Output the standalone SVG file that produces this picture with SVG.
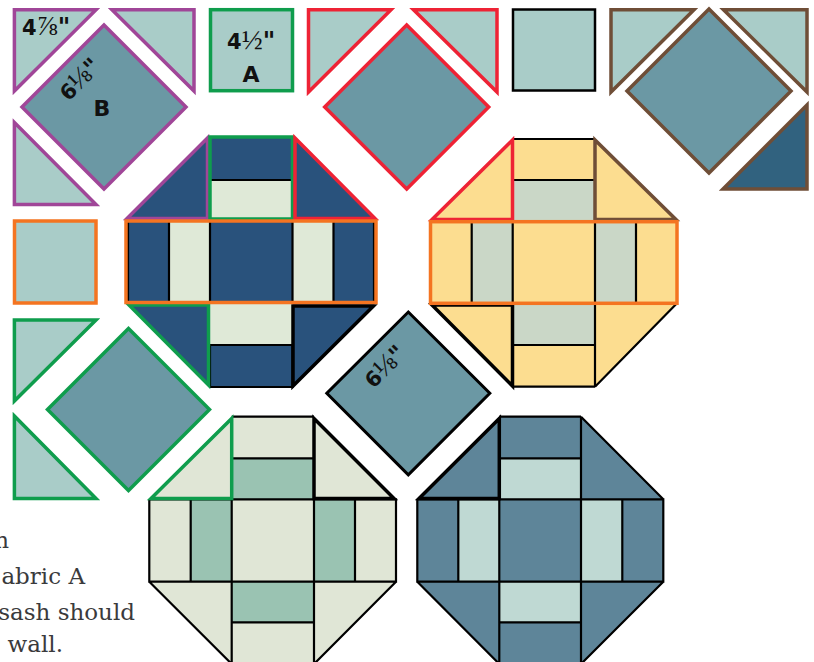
<svg xmlns="http://www.w3.org/2000/svg" width="814" height="662" viewBox="0 0 814 662">
<style>
.lt{fill:#a9ccc8}.dm{fill:#6b98a4}.dk{fill:#31627f}.no{fill:none}
.pu,.gr,.re,.or,.br,.bk,.bk2,.th{stroke-miterlimit:10;stroke-linejoin:miter}
.pu{stroke:#a04698;stroke-width:3.5}.gr{stroke:#0f9d4d;stroke-width:3.5}.re{stroke:#ee2335;stroke-width:3.5}
.or{stroke:#f47421;stroke-width:3.5}.br{stroke:#6f4e37;stroke-width:3.5}.bk{stroke:#000;stroke-width:3.5}
.th{stroke:#000;stroke-width:2.2;fill:none}
.n{font-family:"DejaVu Sans","Liberation Sans",sans-serif;font-weight:700;fill:#111;font-size:21px}
.f{font-family:"Liberation Serif",serif;font-weight:400;font-size:28px}
.q{font-size:24px}
.c{font-family:"DejaVu Sans","Liberation Sans",sans-serif;font-weight:700;fill:#111;font-size:22px;text-anchor:middle}
.t{font-family:"DejaVu Serif",serif;font-size:23px;fill:#3a3a3c;text-anchor:end}
</style>
<g id="connectors"/>
<g id="purple-patch">
<polygon class="lt pu" points="14.4,9.7 96,9.7 14.4,91"/>
<polygon class="lt pu" points="112,9.7 194,9.7 194,91"/>
<polygon class="dm pu" points="104,25 186,107 104,189 22,107"/>
<polygon class="lt pu" points="14.4,122.5 96,204.5 14.4,204.5"/>
<text class="n" x="22" y="35">4<tspan class="f">⅞</tspan><tspan class="q">"</tspan></text>
<text class="n" transform="translate(68.4 102) rotate(-45)">6<tspan class="f">⅛</tspan><tspan class="q">"</tspan></text>
<text class="c" x="102" y="116">B</text>
</g>
<g id="square-a">
<rect class="lt gr" x="210.5" y="9.7" width="82" height="81"/>
<text class="n" x="227" y="49">4<tspan class="f">½</tspan><tspan class="q">"</tspan></text>
<text class="c" x="251" y="82">A</text>
</g>
<g id="red-patch">
<polygon class="lt re" points="308.5,9.7 391,9.7 308.5,92"/>
<polygon class="lt re" points="413.5,9.7 497,9.7 497,92"/>
<polygon class="dm re" points="406.7,25 488.7,107 406.7,189 324.7,107"/>
</g>
<g id="black-square"><rect class="lt bk" x="513" y="9.5" width="82" height="81" style="stroke-width:2.5"/></g>
<g id="brown-patch">
<polygon class="lt br" points="611,9.7 694,9.7 611,92"/>
<polygon class="lt br" points="723.5,9.7 807,9.7 807,92"/>
<polygon class="dm br" points="709,9 791,91 709,173 627,91"/>
<polygon class="dk br" points="807,105 807,189 723,189"/>
</g>
<g id="orange-square"><rect class="lt or" x="14.5" y="221" width="81.5" height="82"/></g>
<g id="green-patch">
<polygon class="lt gr" points="14.4,320 96,320 14.4,401"/>
<polygon class="dm gr" points="128.5,328.5 209.5,409.5 128.5,490.5 47.5,409.5"/>
<polygon class="lt gr" points="14.4,416 96,498.5 14.4,498.5"/>
</g>
<g id="center-diamond">
<polygon class="dm bk" style="stroke-width:3" points="408.3,312 489.8,393.3 408.3,474.8 326.8,393.3"/>
<text class="n" transform="translate(373.6 389.3) rotate(-45)">6<tspan class="f">⅛</tspan><tspan class="q">"</tspan></text>
</g>
<g id="block-navy">
<polygon fill="#29527c" points="210,137 292.5,137 376,221 376,303 292.5,387 210,387 126,303 126,221"/>
<rect x="210" y="180" width="82.5" height="41" fill="#dfe9d7"/>
<rect x="210" y="303" width="82.5" height="42" fill="#dfe9d7"/>
<rect x="169" y="221" width="41" height="82" fill="#dfe9d7"/>
<rect x="292.5" y="221" width="41" height="82" fill="#dfe9d7"/>
<path class="th" d="M210 180H292.5M210 345H292.5M169 221V303M210 221V303M292.5 221V303M333.5 221V303M128 221V303M374 221V303M210 387H292.5V345M210 345V387"/>
<polygon class="no pu" points="207.5,138 207.5,218.5 127,218.5"/>
<rect class="no gr" x="210" y="137" width="82.5" height="82"/>
<polygon class="no re" points="295,138 295,218.5 375,218.5"/>
<polygon class="no gr" points="129,305 208.5,305 208.5,385"/>
<polygon class="no bk" points="293,306 373.5,306 293,386"/>
<rect class="no or" x="126" y="221" width="250" height="81.5"/>
</g>
<g id="block-yellow">
<polygon fill="#fcdd90" points="512.7,139 595,139 677,221.7 677,303.3 595,386.7 512.7,386.7 430.5,303.3 430.5,221.7"/>
<rect x="512.7" y="180" width="82.3" height="41.7" fill="#cad7c7"/>
<rect x="512.7" y="303.3" width="82.3" height="41.7" fill="#cad7c7"/>
<rect x="471.7" y="221.7" width="41" height="81.6" fill="#cad7c7"/>
<rect x="595" y="221.7" width="41" height="81.6" fill="#cad7c7"/>
<path class="th" d="M512.7 139H595M512.7 180H595M512.7 345H595M512.7 386.7H595M471.7 221.7V303.3M512.7 221.7V303.3M595 221.7V386.7M636 221.7V303.3M677 303.3L595 386.7"/>
<polygon class="no re" points="512.5,140 512.5,219.5 432,219.5"/>
<polygon class="no br" points="595,140 595,219.5 676,219.5"/>
<polygon class="no bk" points="512.5,305 512.5,386 432,305"/>
<rect class="no or" x="430.5" y="221.7" width="246.5" height="81.6"/>
</g>
<g id="block-sage">
<polygon fill="#e0e6d6" points="231.7,416.7 314,416.7 396,499.3 396,581.7 314,664 231.7,664 149.3,581.7 149.3,499.3"/>
<rect x="231.7" y="458.3" width="82.3" height="41" fill="#9ac3b2"/>
<rect x="231.7" y="581.7" width="82.3" height="40.6" fill="#9ac3b2"/>
<rect x="190.7" y="499.3" width="41" height="82.4" fill="#9ac3b2"/>
<rect x="314" y="499.3" width="41" height="82.4" fill="#9ac3b2"/>
<path class="th" d="M231.7 416.7H314M231.7 458.3H314M149.3 499.3V581.7H396V499.3H149.3M190.7 499.3V581.7M231.7 499.3V664M314 499.3V664M355 499.3V581.7M231.7 622.3H314M149.3 581.7L231.7 664M396 581.7L314 664"/>
<polygon class="no gr" points="231.7,418.5 231.7,498.5 151,498.5"/>
<polygon class="no bk" points="314,418.5 314,498.5 394,498.5"/>
</g>
<g id="block-teal">
<polygon fill="#5e8599" points="499.3,416.7 581,416.7 663.3,499.3 663.3,581.7 581,664 499.3,664 417.3,581.7 417.3,499.3"/>
<rect x="499.3" y="458.3" width="81.7" height="41" fill="#bfd9d3"/>
<rect x="499.3" y="581.7" width="81.7" height="40.6" fill="#bfd9d3"/>
<rect x="458.3" y="499.3" width="41" height="82.4" fill="#bfd9d3"/>
<rect x="581" y="499.3" width="41.3" height="82.4" fill="#bfd9d3"/>
<path class="th" d="M499.3 416.7H581M499.3 458.3H581M417.3 499.3V581.7H663.3V499.3H417.3M458.3 499.3V581.7M499.3 499.3V664M581 416.7V664M622.3 499.3V581.7M499.3 622.3H581M581 416.7L663.3 499.3M417.3 581.7L499.3 664M663.3 581.7L581 664"/>
<polygon class="no bk" points="499.3,418.5 499.3,498.5 419,498.5"/>
</g>
<g id="caption">
<text class="t" x="9" y="548">n</text>
<text class="t" x="85" y="584">abric A</text>
<text class="t" x="135" y="620">sash should</text>
<text class="t" x="63" y="652">wall.</text>
</g>
</svg>
